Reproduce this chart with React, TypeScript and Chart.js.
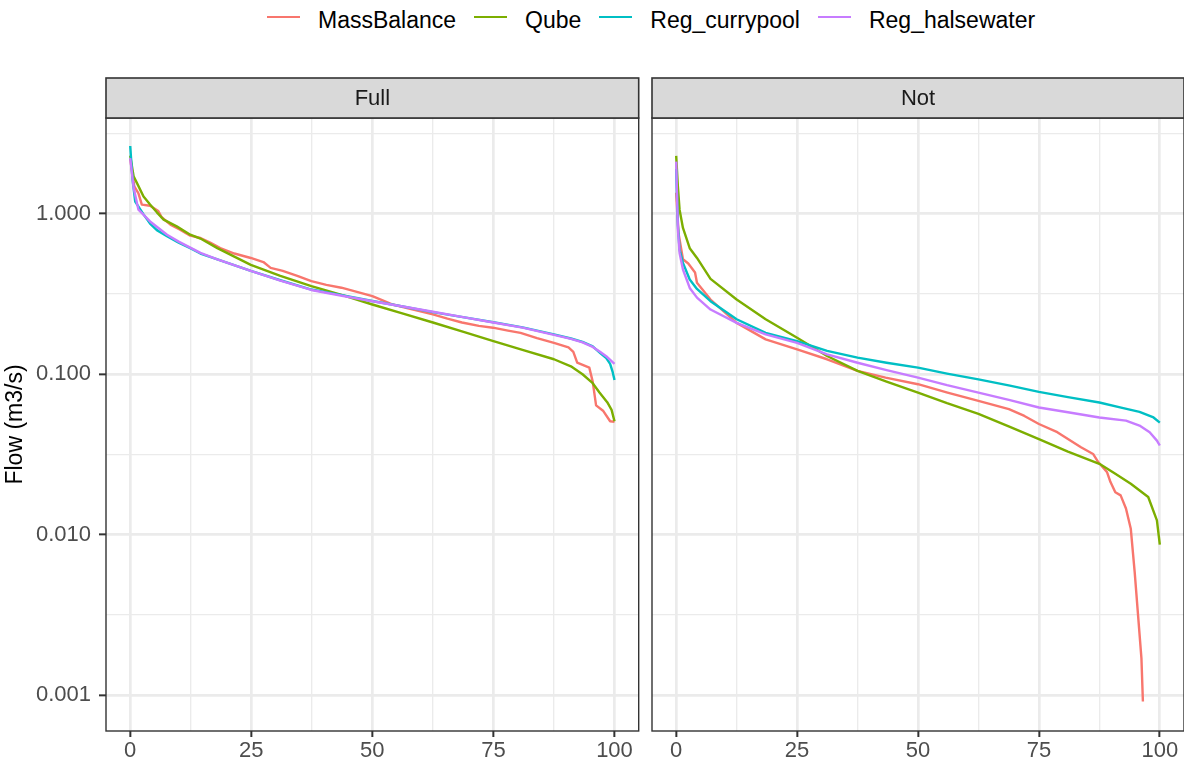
import React, { useEffect, useRef } from 'react';
import { Chart, registerables } from 'chart.js';

Chart.register(...registerables);

// ---------------- data ----------------
const SERIES_NAMES = ['MassBalance', 'Qube', 'Reg_currypool', 'Reg_halsewater'];
const SERIES_COLORS = ['#F8766D', '#7CAE00', '#00BFC4', '#C77CFF'];
const PANEL_LABELS = ['Full', 'Not'];

// [exceedance %, flow m3/s]
const FULL_MASSBALANCE: [number, number][] = [
  [0, 2.2], [0.85, 1.48], [1.7, 1.34], [2.4, 1.14], [4.1, 1.12], [5.8, 1.04], [6.5, 0.95], [8.3, 0.855],
  [10.3, 0.796], [12.4, 0.73], [14.5, 0.706], [16.5, 0.66], [18.6, 0.61], [21.5, 0.565], [24.9, 0.53],
  [27.5, 0.5], [29, 0.46], [31.5, 0.44], [34.5, 0.41], [37.4, 0.38], [40.5, 0.36], [43.6, 0.346],
  [47, 0.325], [50, 0.307], [52, 0.29], [54.2, 0.272], [58, 0.255], [62.5, 0.236], [65.5, 0.222],
  [68.5, 0.21], [72, 0.2], [74.9, 0.195], [78, 0.187], [80.6, 0.181], [84, 0.168], [87.5, 0.157],
  [90.5, 0.147], [91.5, 0.138], [92.3, 0.118], [94.8, 0.11], [95.5, 0.09], [96.2, 0.064], [97.7, 0.059],
  [99.1, 0.051], [100, 0.0506],
];
const FULL_QUBE: [number, number][] = [
  [0, 2.3], [0.7, 1.71], [1.4, 1.55], [2.75, 1.28], [4.1, 1.14], [5.5, 1.02], [6.9, 0.918], [9.6, 0.834],
  [12.4, 0.74], [14.5, 0.7], [18, 0.61], [21.5, 0.54], [24.9, 0.48], [31, 0.41], [37.4, 0.354], [44, 0.31],
  [50, 0.272], [56, 0.24], [62.5, 0.21], [69, 0.183], [75, 0.161], [81, 0.142], [87.5, 0.124], [91, 0.112],
  [93.4, 0.1], [95.5, 0.088], [96.9, 0.077], [98.5, 0.067], [99.4, 0.06], [100, 0.051],
];
const FULL_CURRYPOOL: [number, number][] = [
  [0, 2.64], [0.48, 1.63], [1.03, 1.19], [2.75, 0.99], [4.1, 0.867], [5.5, 0.79], [7.6, 0.723], [10, 0.66],
  [12.4, 0.61], [14.5, 0.565], [18, 0.52], [24.9, 0.44], [31, 0.385], [37.4, 0.337], [44, 0.31], [50, 0.286],
  [56, 0.265], [62.5, 0.244], [69, 0.226], [75, 0.211], [81, 0.196], [87.5, 0.177], [91, 0.167], [93.4, 0.159],
  [95.5, 0.149], [97, 0.136], [98.3, 0.126], [99.1, 0.116], [99.6, 0.104], [100, 0.092],
];
const FULL_HALSEWATER: [number, number][] = [
  [0, 2.22], [0.7, 1.45], [1.7, 1.06], [4.1, 0.895], [7.6, 0.74], [10, 0.67], [12.4, 0.615], [14.5, 0.57],
  [18, 0.52], [24.9, 0.44], [31, 0.383], [37.4, 0.335], [44, 0.307], [50, 0.285], [56, 0.265], [62.5, 0.245],
  [69, 0.226], [75, 0.21], [81, 0.195], [87.5, 0.176], [91, 0.166], [93.4, 0.158], [95.5, 0.148], [97, 0.138],
  [98.5, 0.128], [100, 0.116],
];

const NOT_MASSBALANCE: [number, number][] = [
  [0, 1.35], [0.5, 0.75], [1.4, 0.52], [2.5, 0.49], [3.9, 0.43], [4.3, 0.371], [7.1, 0.292], [12.5, 0.209],
  [18.5, 0.165], [25, 0.143], [31.2, 0.124], [37.5, 0.105], [43.3, 0.0953], [50, 0.0867], [56.1, 0.0769],
  [62.5, 0.0683], [68.8, 0.0607], [72, 0.055], [75, 0.049], [78.8, 0.0436], [83.7, 0.0351], [86.2, 0.0319],
  [87.3, 0.0283], [89.1, 0.0245], [89.8, 0.0213], [90.8, 0.0184], [91.9, 0.0176], [93, 0.0146], [94, 0.0109],
  [94.8, 0.00587], [95.5, 0.00316], [96.2, 0.0017], [96.5, 0.000916],
];
const NOT_QUBE: [number, number][] = [
  [0, 2.29], [0.35, 1.48], [0.7, 1.06], [1.4, 0.815], [2.8, 0.61], [4.3, 0.53], [7.1, 0.393], [12.5, 0.292],
  [18.5, 0.22], [25, 0.169], [31.2, 0.13], [37.5, 0.105], [43.5, 0.09], [50, 0.0769], [56, 0.066],
  [62.5, 0.0566], [69, 0.047], [75, 0.0395], [81, 0.033], [87.5, 0.0277], [90.8, 0.024], [94, 0.0208],
  [97.6, 0.0172], [99.4, 0.0123], [100, 0.0087],
];
const NOT_CURRYPOOL: [number, number][] = [
  [0, 1.9], [0.35, 0.85], [0.7, 0.597], [1.4, 0.494], [2.8, 0.389], [4.3, 0.34], [7.1, 0.285], [12.5, 0.22],
  [18.5, 0.181], [25, 0.161], [31.2, 0.14], [37.5, 0.127], [43.5, 0.118], [50, 0.11], [56, 0.101],
  [62.5, 0.093], [69, 0.085], [75, 0.0777], [81, 0.072], [87.5, 0.0667], [92, 0.062], [95.8, 0.0583],
  [98.7, 0.0538], [100, 0.05],
];
const NOT_HALSEWATER: [number, number][] = [
  [0, 2.11], [0.35, 0.8], [0.7, 0.57], [1.4, 0.449], [2.8, 0.345], [4.3, 0.3], [7.1, 0.253], [12.5, 0.209],
  [18.5, 0.177], [25, 0.157], [31.2, 0.133], [37.5, 0.118], [43.5, 0.106], [50, 0.0953], [56, 0.0855],
  [62.5, 0.0769], [69, 0.069], [75, 0.0621], [81, 0.058], [87.5, 0.0538], [93, 0.0514], [95.8, 0.0479],
  [97.9, 0.0435], [99.4, 0.0386], [100, 0.036],
];

const FULL_SERIES = [FULL_MASSBALANCE, FULL_QUBE, FULL_CURRYPOOL, FULL_HALSEWATER];
const NOT_SERIES = [NOT_MASSBALANCE, NOT_QUBE, NOT_CURRYPOOL, NOT_HALSEWATER];

const X_MAJOR = [0, 25, 50, 75, 100];
const X_MINOR = [12.5, 37.5, 62.5, 87.5];
const X_MIN = -5;
const X_MAX = 105;
const Y_MAJOR = [0.001, 0.01, 0.1, 1];
const Y_MAJOR_LABELS = ['0.001', '0.010', '0.100', '1.000'];
const Y_MINOR = [0.0031623, 0.031623, 0.31623, 3.1623];
const Y_MIN = 0.000615;
const Y_MAX = 3.945;
const Y_TITLE = 'Flow (m3/s)';

// ---------------- styling ----------------
const FONT = '"Liberation Sans", Arial, Helvetica, sans-serif';
const GRID = '#EBEBEB';
const DARK = '#333333';

const near = (a: number, b: number) => Math.abs(a - b) <= Math.abs(b) * 1e-3 + 1e-9;
const isXMajor = (v: number) => X_MAJOR.some((m) => near(v, m));
const yMajorIndex = (v: number) => Y_MAJOR.findIndex((m) => near(v, m));

const panelDecor = {
  id: 'panelDecor',
  afterDatasetsDraw(chart: any, _args: any, opts: any) {
    const { ctx, chartArea: a } = chart;
    const w = a.right - a.left;
    ctx.save();
    ctx.strokeStyle = DARK;
    ctx.lineWidth = 1.4;
    ctx.strokeRect(a.left, a.top, w, a.bottom - a.top);
    const stripH = 40;
    const top = a.top - stripH;
    ctx.fillStyle = '#D9D9D9';
    ctx.fillRect(a.left, top, w, stripH);
    ctx.lineWidth = 1.6;
    ctx.strokeRect(a.left, top, w, stripH);
    ctx.fillStyle = '#1A1A1A';
    ctx.font = `22px ${FONT}`;
    ctx.textAlign = 'center';
    ctx.textBaseline = 'middle';
    ctx.fillText(opts.label, a.left + w / 2, top + stripH / 2 + 1);
    ctx.restore();
  },
};

function makeConfig(series: [number, number][][], label: string, showY: boolean, padLeft: number, padRight: number) {
  const datasets = series.map((pts, i) => ({
    label: SERIES_NAMES[i],
    data: pts.map(([x, y]) => ({ x, y })),
    borderColor: SERIES_COLORS[i],
    backgroundColor: SERIES_COLORS[i],
    borderWidth: 2.4,
    pointRadius: 0,
    tension: 0,
    fill: false,
    borderJoinStyle: 'round',
    order: SERIES_NAMES.length - i,
  }));
  return {
    type: 'line',
    data: { datasets },
    plugins: [panelDecor],
    options: {
      responsive: false,
      animation: false,
      devicePixelRatio: 1,
      layout: { padding: { left: padLeft, right: padRight, top: 118, bottom: 0 } },
      plugins: {
        legend: { display: false },
        tooltip: { enabled: false },
        panelDecor: { label },
      },
      scales: {
        x: {
          type: 'linear',
          min: X_MIN,
          max: X_MAX,
          afterBuildTicks: (axis: any) => {
            axis.ticks = [...X_MAJOR, ...X_MINOR].sort((a, b) => a - b).map((v) => ({ value: v }));
          },
          afterFit: (axis: any) => {
            axis.height = 32;
          },
          border: { display: false },
          grid: {
            color: GRID,
            lineWidth: (c: any) => (c.tick && isXMajor(c.tick.value) ? 2.7 : 1.35),
            drawTicks: true,
            tickLength: 6,
            tickWidth: 2,
            tickColor: (c: any) => (c.tick && isXMajor(c.tick.value) ? DARK : 'rgba(0,0,0,0)'),
          },
          ticks: {
            autoSkip: false,
            maxRotation: 0,
            padding: 1,
            color: '#4D4D4D',
            font: { family: FONT, size: 22, lineHeight: 1.2 },
            callback: (v: any) => (isXMajor(Number(v)) ? String(v) : ''),
          },
        },
        y: {
          type: 'logarithmic',
          min: Y_MIN,
          max: Y_MAX,
          afterBuildTicks: (axis: any) => {
            axis.ticks = [...Y_MAJOR, ...Y_MINOR].sort((a, b) => a - b).map((v) => ({ value: v }));
          },
          afterFit: (axis: any) => {
            axis.width = showY ? 106 : 0;
          },
          border: { display: false },
          title: {
            display: showY,
            text: Y_TITLE,
            color: '#000000',
            font: { family: FONT, size: 23, lineHeight: 1.2 },
            padding: { top: 2, bottom: 0 },
          },
          grid: {
            color: GRID,
            lineWidth: (c: any) => (c.tick && yMajorIndex(c.tick.value) >= 0 ? 2.7 : 1.35),
            drawTicks: showY,
            tickLength: 7,
            tickWidth: 2,
            tickColor: (c: any) => (c.tick && yMajorIndex(c.tick.value) >= 0 ? DARK : 'rgba(0,0,0,0)'),
          },
          ticks: {
            display: showY,
            autoSkip: false,
            padding: 8,
            color: '#4D4D4D',
            font: { family: FONT, size: 22, lineHeight: 1.2 },
            callback: (v: any) => {
              const idx = yMajorIndex(Number(v));
              return idx >= 0 ? Y_MAJOR_LABELS[idx] : '';
            },
          },
        },
      },
    },
  };
}

export default function App() {
  const leftRef = useRef<HTMLCanvasElement>(null);
  const rightRef = useRef<HTMLCanvasElement>(null);

  useEffect(() => {
    const charts: Chart[] = [];
    if (leftRef.current) {
      charts.push(new Chart(leftRef.current, makeConfig(FULL_SERIES, PANEL_LABELS[0], true, 0, 6.3) as any));
    }
    if (rightRef.current) {
      charts.push(new Chart(rightRef.current, makeConfig(NOT_SERIES, PANEL_LABELS[1], false, 7, 0) as any));
    }
    return () => charts.forEach((c) => c.destroy());
  }, []);

  return (
    <div
      style={{
        position: 'fixed',
        left: 0,
        top: 0,
        width: 1184,
        height: 763,
        background: '#FFFFFF',
        overflow: 'hidden',
      }}
    >
      <div
        style={{
          position: 'absolute',
          left: 267,
          top: 7,
          height: 26,
          display: 'flex',
          alignItems: 'center',
          fontFamily: FONT,
          fontSize: 23,
          color: '#000000',
          whiteSpace: 'nowrap',
        }}
      >
        {SERIES_NAMES.map((name, i) => (
          <div key={name} style={{ display: 'flex', alignItems: 'center', marginRight: i < SERIES_NAMES.length - 1 ? 18 : 0 }}>
            <span
              style={{
                display: 'inline-block',
                width: 33,
                height: 2.5,
                background: SERIES_COLORS[i],
                marginRight: 18,
                position: 'relative',
                top: -3,
              }}
            />
            <span style={{ lineHeight: '26px' }}>{name}</span>
          </div>
        ))}
      </div>
      <canvas
        ref={leftRef}
        width={645}
        height={763}
        style={{ position: 'absolute', left: 0, top: 0, width: 645, height: 763 }}
      />
      <canvas
        ref={rightRef}
        width={539}
        height={763}
        style={{ position: 'absolute', left: 645, top: 0, width: 539, height: 763 }}
      />
    </div>
  );
}
